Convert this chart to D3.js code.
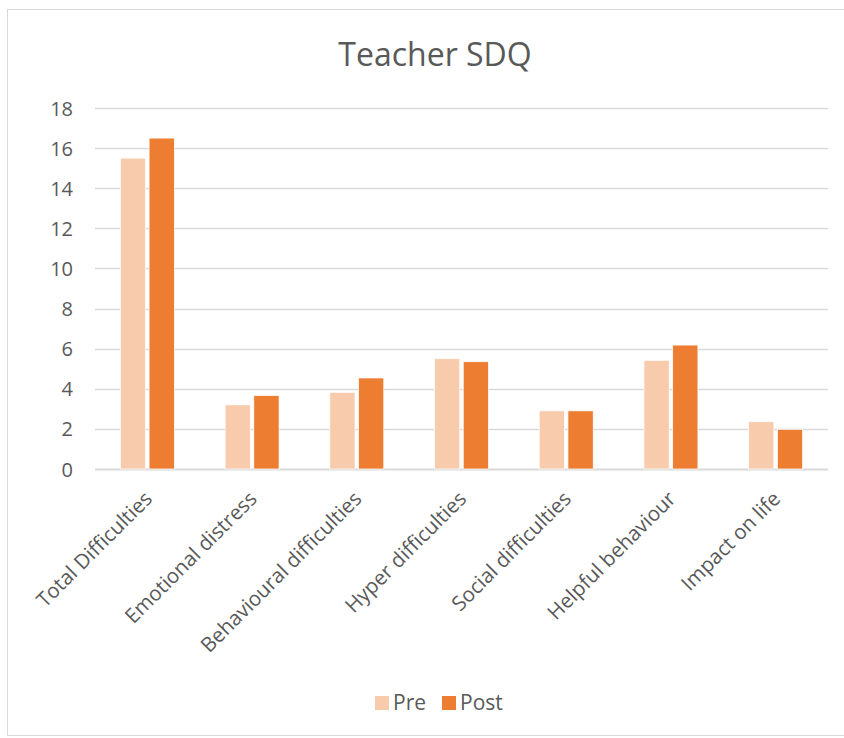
<!DOCTYPE html>
<html>
<head>
<meta charset="utf-8">
<script src="https://cdn.jsdelivr.net/npm/d3@7"></script>
<style>
  body { margin: 0; background: #fff; }
  svg { display: block; font-family: "Open Sans", "Noto Sans", sans-serif; }
</style>
</head>
<body>
<div id="chart"></div>
<script>
// data
const categories = [
  "Total Difficulties",
  "Emotional distress",
  "Behavioural difficulties",
  "Hyper difficulties",
  "Social difficulties",
  "Helpful behaviour",
  "Impact on life",
];
const seriesNames = ["Pre", "Post"];
const preValues = [15.5, 3.2, 3.82, 5.5, 2.9, 5.42, 2.36];
const postValues = [16.5, 3.67, 4.54, 5.35, 2.9, 6.18, 1.98];
const yTicks = [0, 2, 4, 6, 8, 10, 12, 14, 16, 18];

const colors = { Pre: "#F8CBAD", Post: "#ED7D31" };

const width = 844, height = 738;
const margin = { top: 108, right: 16, bottom: 268, left: 95 };

const svg = d3.select("#chart")
  .append("svg")
  .attr("width", width)
  .attr("height", height);

// chart border
svg.append("rect")
  .attr("x", 7.5)
  .attr("y", 9.5)
  .attr("width", width - 7)
  .attr("height", height - 12)
  .attr("fill", "#fff")
  .attr("stroke", "#D9D9D9");

// title
svg.append("text")
  .attr("x", 435)
  .attr("y", 66)
  .attr("text-anchor", "middle")
  .style("font-size", "32px")
  .style("fill", "#595959")
  .text("Teacher SDQ");

const x = d3.scaleBand()
  .domain(categories)
  .range([margin.left, width - margin.right]);

const xInner = d3.scaleBand()
  .domain(seriesNames)
  .range([0, 54])
  .paddingInner(0.12);

const y = d3.scaleLinear()
  .domain([0, 18])
  .range([height - margin.bottom - 1, margin.top]);

// gridlines
svg.append("g")
  .selectAll("line")
  .data(yTicks)
  .join("line")
  .attr("x1", margin.left)
  .attr("x2", width - margin.right)
  .attr("y1", (d) => Math.round(y(d)) + 0.5)
  .attr("y2", (d) => Math.round(y(d)) + 0.5)
  .attr("stroke", "#D9D9D9")
  .attr("stroke-width", (d) => (d === 0 ? 2 : 1.5));

// y tick labels
const yAxis = d3.axisLeft(y).tickValues(yTicks).tickSize(0).tickPadding(0);
const yg = svg.append("g")
  .attr("transform", `translate(${margin.left - 22},0)`)
  .call(yAxis);
yg.select(".domain").remove();
yg.selectAll("text")
  .style("font-size", "20px")
  .style("font-family", "'Open Sans', sans-serif")
  .style("fill", "#595959")
  .attr("dy", "0.35em");

// bars
const data = categories.map((c, i) => ({
  category: c,
  values: [
    { key: "Pre", value: preValues[i] },
    { key: "Post", value: postValues[i] },
  ],
}));

const groups = svg.append("g")
  .selectAll("g")
  .data(data)
  .join("g")
  .attr("transform", (d) => `translate(${x(d.category) + x.bandwidth() / 2 - 27},0)`);

groups.selectAll("rect")
  .data((d) => d.values)
  .join("rect")
  .attr("x", (d) => xInner(d.key))
  .attr("width", xInner.bandwidth())
  .attr("y", (d) => y(d.value))
  .attr("height", (d) => y(0) - y(d.value))
  .attr("fill", (d) => colors[d.key])
  .attr("stroke", "#fff")
  .attr("stroke-width", 0.75);

// x category labels, rotated
svg.append("g")
  .selectAll("text")
  .data(categories)
  .join("text")
  .attr("transform", (d) => `translate(${x(d) + x.bandwidth() / 2 + 1},${y(0) + 26}) rotate(-45)`)
  .attr("text-anchor", "end")
  .attr("dy", "0.35em")
  .style("font-size", "20.5px")
  .style("fill", "#595959")
  .text((d) => d);

// legend
const legend = svg.append("g").attr("transform", "translate(375,703)");
const legendItems = legend.selectAll("g")
  .data(seriesNames)
  .join("g")
  .attr("transform", (d, i) => `translate(${i * 67},0)`);
legendItems.append("rect")
  .attr("x", 0)
  .attr("y", -7)
  .attr("width", 14)
  .attr("height", 14)
  .attr("fill", (d) => colors[d]);
legendItems.append("text")
  .attr("x", 18)
  .attr("dy", "0.35em")
  .style("font-size", "21px")
  .style("fill", "#595959")
  .text((d) => d);
</script>
</body>
</html>
